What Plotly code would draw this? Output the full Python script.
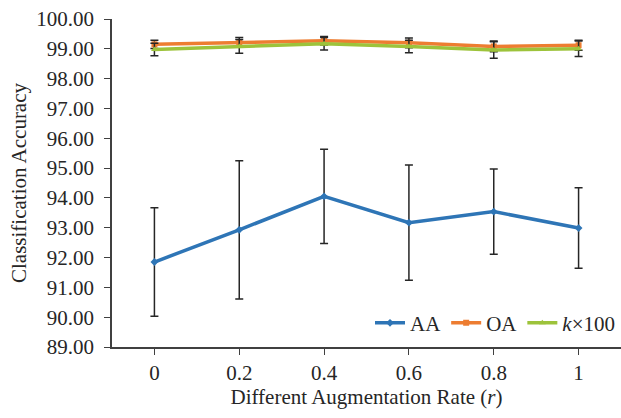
import plotly.graph_objects as go

# Augmentation rates (categorical x axis)
rates = ["0", "0.2", "0.4", "0.6", "0.8", "1"]

# Average accuracy and its standard deviation
aa = [91.85, 92.93, 94.05, 93.17, 93.54, 92.99]
aa_err = [1.82, 2.32, 1.58, 1.93, 1.43, 1.35]

# Overall accuracy and its standard deviation
oa = [99.15, 99.22, 99.27, 99.20, 99.08, 99.12]
oa_err = [0.14, 0.16, 0.14, 0.16, 0.18, 0.17]

# Kappa coefficient (x100) and its standard deviation
kappa = [98.98, 99.08, 99.17, 99.08, 98.96, 99.00]
kappa_err = [0.21, 0.23, 0.21, 0.21, 0.28, 0.26]

y_ticks = [89 + i for i in range(12)]

FONT = "Liberation Serif"
ERR_COLOR = "#262626"
AXIS_COLOR = "#404040"

fig = go.Figure()

def add_series(y, err, name, color, symbol):
    fig.add_trace(go.Scatter(
        x=rates, y=y, name=name, mode="lines+markers",
        line=dict(color=color, width=3.5),
        marker=dict(symbol=symbol, size=6, color=color),
        error_y=dict(type="data", array=err, visible=True,
                     color=ERR_COLOR, thickness=1.5, width=4),
    ))

add_series(aa, aa_err, "AA", "#2E75B6", "diamond")
add_series(oa, oa_err, "OA", "#ED7D31", "square")
add_series(kappa, kappa_err, "<i>k</i>×100", "#9DC33B", "triangle-up")

fig.update_layout(
    width=621, height=418,
    margin=dict(l=112, r=0, t=19, b=71),
    paper_bgcolor="white", plot_bgcolor="white",
    font=dict(family=FONT, size=21, color="#262626"),
    showlegend=True,
    legend=dict(
        orientation="h", x=1.0, xanchor="right", y=0.01, yanchor="bottom",
        bgcolor="rgba(255,255,255,0)", font=dict(size=21),
        itemwidth=30, tracegroupgap=0,
    ),
    xaxis=dict(
        type="category", range=[-0.5, 5.5],
        showline=True, linecolor=AXIS_COLOR, linewidth=1.5,
        ticks="outside", ticklen=6, tickcolor=AXIS_COLOR,
        showgrid=False, zeroline=False,
        title=dict(text="Different Augmentation Rate (<i>r</i>)", standoff=4,
                   font=dict(size=21)),
    ),
    yaxis=dict(
        range=[89, 100], tickvals=y_ticks, tickformat=".2f",
        showline=True, linecolor=AXIS_COLOR, linewidth=1.5,
        ticks="outside", ticklen=6, tickcolor=AXIS_COLOR,
        ticklabelstandoff=6,
        showgrid=False, zeroline=False,
        title=dict(text="Classification Accuracy", standoff=4,
                   font=dict(size=21)),
    ),
)

fig.write_html("out.html")
